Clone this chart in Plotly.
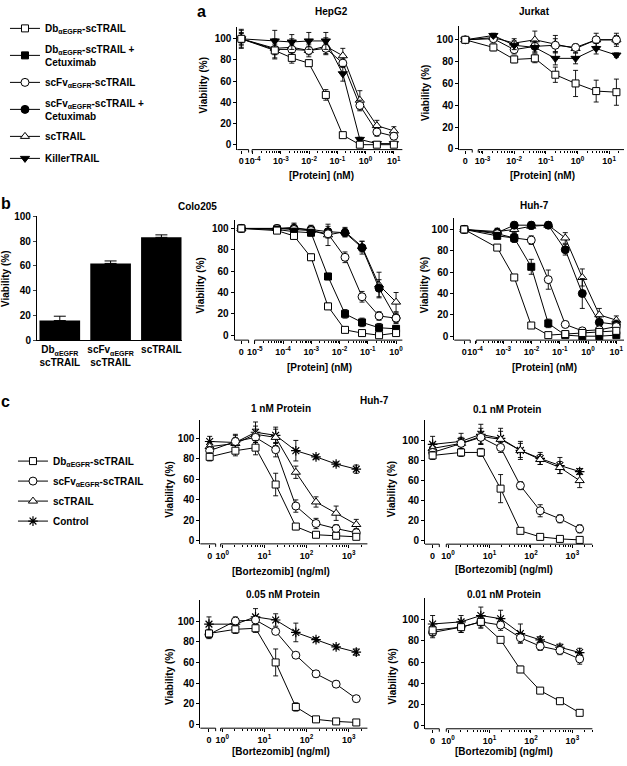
import math
import plotly.graph_objects as go

W, H = 627, 766
FONT = "Liberation Sans"

# ---------------------------------------------------------------- data
# Panel a - HepG2  (protein, nM; 0 = untreated)
HEPG2_CONC = [0, 0.00061, 0.00244, 0.00977, 0.0391, 0.156, 0.625, 2.5, 10]
HEPG2_DB = [100, 89, 82, 77, 47, 9, 0, 0, 0]
HEPG2_DB_ERR = [8, 8, 5, 3, 5, 2, 1, 1, 1]
HEPG2_SCFV = [100, 90, 90, 89, 91, 77, 37, 12, 8]
HEPG2_SCFV_ERR = [6, 5, 5, 4, 5, 4, 5, 4, 3]
HEPG2_SCTRAIL = [100, 91, 92, 89, 93, 84, 42, 18, 13]
HEPG2_SCTRAIL_ERR = [5, 9, 8, 6, 8, 7, 9, 5, 4]
HEPG2_KILLER = [100, 98, 97, 98, 98, 67, 5, 1, 1]
HEPG2_KILLER_ERR = [9, 10, 7, 8, 8, 7, 2, 2, 2]

# Panel a - Jurkat
JURKAT_CONC = [0, 0.0022, 0.010, 0.045, 0.20, 0.87, 3.9, 17]
JURKAT_DB = [100, 93, 82, 83, 68, 60, 53, 52]
JURKAT_DB_ERR = [2, 3, 3, 4, 7, 12, 10, 12]
JURKAT_SCFV = [100, 101, 91, 94, 95, 93, 100, 100]
JURKAT_SCFV_ERR = [2, 3, 4, 5, 6, 3, 3, 4]
JURKAT_SCTRAIL = [100, 102, 97, 100, 96, 92, 100, 100]
JURKAT_SCTRAIL_ERR = [2, 3, 4, 8, 8, 4, 6, 6]
JURKAT_KILLER = [100, 104, 95, 93, 83, 83, 92, 86]
JURKAT_KILLER_ERR = [2, 2, 4, 5, 6, 5, 5, 2]

# Panel b - bar chart (Colo205 viability)
BAR_CATS = ["Db<sub>αEGFR</sub><br>scTRAIL", "scFv<sub>αEGFR</sub><br>scTRAIL", "scTRAIL"]
BAR_VALS = [16, 62, 83]
BAR_ERR = [3.5, 2, 2]

# Panel b - Colo205
COLO_CONC = [0, 0.000061, 0.000244, 0.000977, 0.0039, 0.0156, 0.0625, 0.25, 1]
COLO_DB = [100, 98, 93, 73, 27, 5, 2, 0, 2]
COLO_DB_ERR = [2, 2, 3, 3, 3, 2, 1, 2, 2]
COLO_DBC = [100, 99, 97, 96, 55, 20, 12, 7, 6]
COLO_DBC_ERR = [2, 2, 3, 3, 3, 4, 4, 4, 3]
COLO_SCFV = [100, 100, 99, 98, 95, 73, 36, 18, 16]
COLO_SCFV_ERR = [2, 2, 3, 3, 4, 5, 5, 4, 4]
COLO_SCFVC = [100, 100, 100, 99, 97, 96, 82, 44, 16]
COLO_SCFVC_ERR = [2, 2, 4, 4, 5, 4, 6, 8, 5]
COLO_SCTRAIL = [100, 100, 101, 98, 94, 97, 83, 47, 31]
COLO_SCTRAIL_ERR = [2, 3, 4, 4, 10, 4, 5, 12, 9]

# Panel b - Huh-7
HUH_CONC = [0, 0.00061, 0.00244, 0.00977, 0.0391, 0.156, 0.625, 2.5, 10]
HUH_DB = [100, 83, 55, 10, 1, 2, 3, 4, 5]
HUH_DB_ERR = [1, 2, 2, 2, 1, 1, 1, 1, 1]
HUH_DBC = [100, 94, 92, 65, 12, 1, 0, 0, 1]
HUH_DBC_ERR = [2, 3, 4, 7, 4, 1, 1, 1, 1]
HUH_SCFV = [100, 96, 92, 90, 53, 11, 5, 6, 9]
HUH_SCFV_ERR = [2, 3, 4, 4, 9, 3, 2, 2, 2]
HUH_SCFVC = [100, 97, 104, 104, 104, 81, 40, 13, 11]
HUH_SCFVC_ERR = [2, 4, 3, 3, 3, 5, 14, 5, 4]
HUH_SCTRAIL = [100, 98, 100, 103, 104, 92, 55, 20, 15]
HUH_SCTRAIL_ERR = [2, 3, 3, 3, 3, 5, 8, 6, 4]

# Panel c - Huh-7 + bortezomib (ng/ml; 0 = no bortezomib)
BORT_CONC = [0, 2.06, 6.17, 18.5, 55.6, 167, 500, 1500]
C1_DB = [82, 88, 91, 55, 14, 6, 5, 4]
C1_DB_ERR = [4, 5, 7, 11, 3, 2, 2, 2]
C1_SCFV = [88, 97, 101, 89, 34, 17, 12, 8]
C1_SCFV_ERR = [4, 6, 8, 7, 6, 5, 4, 4]
C1_SCTRAIL = [92, 95, 104, 101, 67, 38, 27, 16]
C1_SCTRAIL_ERR = [4, 6, 8, 8, 6, 5, 7, 5]
C1_CTRL = [97, 96, 106, 103, 88, 82, 75, 70]
C1_CTRL_ERR = [5, 8, 10, 8, 10, 2, 2, 4]

C01_DB = [85, 88, 88, 52, 10, 4, 2, 1]
C01_DB_ERR = [4, 4, 4, 14, 2, 2, 2, 1]
C01_SCFV = [88, 97, 103, 93, 55, 30, 22, 12]
C01_SCFV_ERR = [4, 5, 6, 5, 4, 6, 4, 4]
C01_SCTRAIL = [92, 97, 104, 101, 90, 81, 73, 60]
C01_SCTRAIL_ERR = [5, 6, 8, 8, 7, 5, 6, 7]
C01_CTRL = [96, 99, 106, 102, 90, 82, 75, 69]
C01_CTRL_ERR = [8, 8, 10, 10, 9, 6, 8, 3]

C005_DB = [88, 92, 93, 60, 17, 5, 3, 2]
C005_DB_ERR = [4, 4, 4, 13, 4, 2, 2, 1]
C005_SCFV = [87, 100, 101, 90, 67, 49, 39, 25]
C005_SCFV_ERR = [4, 4, 4, 3, 2, 3, 3, 3]
C005_CTRL = [97, 97, 104, 101, 89, 82, 75, 70]
C005_CTRL_ERR = [7, 5, 8, 6, 9, 2, 2, 3]

C001_DB = [90, 93, 98, 81, 53, 33, 23, 12]
C001_DB_ERR = [5, 5, 5, 2, 3, 2, 2, 2]
C001_SCFV = [88, 93, 98, 95, 83, 75, 71, 63]
C001_SCFV_ERR = [5, 5, 6, 5, 5, 4, 4, 5]
C001_CTRL = [96, 98, 104, 101, 87, 81, 74, 69]
C001_CTRL_ERR = [8, 6, 8, 8, 9, 3, 3, 4]

NAME_DB = "Db<sub>αEGFR</sub>-scTRAIL"
NAME_DBC = "Db<sub>αEGFR</sub>-scTRAIL +<br>Cetuximab"
NAME_SCFV = "scFv<sub>αEGFR</sub>-scTRAIL"
NAME_SCFVC = "scFv<sub>αEGFR</sub>-scTRAIL +<br>Cetuximab"
NAME_SCTRAIL = "scTRAIL"
NAME_KILLER = "KillerTRAIL"
NAME_CTRL = "Control"

# ---------------------------------------------------------------- styles
STYLE = {
    "db": dict(symbol="square", fill="white", size=7),
    "dbc": dict(symbol="square", fill="black", size=7),
    "scfv": dict(symbol="circle", fill="white", size=8),
    "scfvc": dict(symbol="circle", fill="black", size=8),
    "sctrail": dict(symbol="triangle-up", fill="white", size=8),
    "killer": dict(symbol="triangle-down", fill="black", size=8),
    "ctrl": dict(symbol="asterisk", fill="black", size=8),
}


def fx(px):
    return px / W


def fy(py):
    return 1 - py / H


fig = go.Figure()
layout = {}
shapes = []
annotations = []
BOLD = dict(family=FONT, size=10, color="black", weight="bold")
TICKFONT = dict(family=FONT, size=10, color="black", weight="bold")
XTICKFONT = dict(family=FONT, size=9, color="black", weight="bold")


def sup(n):
    return "10<sup>%d</sup>" % n


def ax_name(n, kind):
    return kind + ("" if n == 1 else str(n))


def add_text(text, x, y, size=10, angle=0):
    annotations.append(dict(text=text, x=fx(x), y=fy(y), xref="paper", yref="paper",
                            showarrow=False, textangle=angle, xanchor="center", yanchor="middle",
                            font=dict(family=FONT, size=size, color="black", weight="bold")))


def curve_panel(n, g, conc, series, decades):
    # g: geometry in pixels
    lo = g["ref_log"] + (g["left"] - g["ref_px"]) / g["dec"]
    hi = g["ref_log"] + (g["right"] - g["ref_px"]) / g["dec"]
    zero_val = 10 ** (g["ref_log"] + (g["zero"] - g["ref_px"]) / g["dec"])
    main_log = g["ref_log"] + (g["main"] - g["ref_px"]) / g["dec"]
    ylo = (g["v0"] - g["bottom"]) / g["vs"]
    yhi = (g["v0"] - g["top"]) / g["vs"]
    xa, ya = ax_name(n, "x"), ax_name(n, "y")
    minor_vals = []
    for d in range(math.floor(lo), math.ceil(hi) + 1):
        for k in range(2, 10):
            lv = math.log10(k * 10 ** d)
            if main_log <= lv <= hi:
                minor_vals.append(k * 10 ** d)
    layout[ax_name(n, "xaxis")] = dict(
        domain=[fx(g["left"]), fx(g["right"])], anchor=ya, type="log", range=[lo, hi],
        tickvals=[zero_val] + [10 ** d for d in decades],
        ticktext=["0"] + [sup(d) for d in decades], tickangle=0, ticklabeloverflow="allow",
        ticks="outside", ticklen=3, tickwidth=1, tickcolor="black",
        showline=False, showgrid=False, zeroline=False, tickfont=XTICKFONT,
        minor=dict(tickvals=minor_vals, ticks="outside", ticklen=2, tickwidth=0.8,
                   tickcolor="black", showgrid=False))
    layout[ax_name(n, "yaxis")] = dict(
        domain=[fy(g["bottom"]), fy(g["top"])], anchor=xa, range=[ylo, yhi],
        tickvals=[0, 20, 40, 60, 80, 100], ticks="outside", ticklen=3, tickwidth=1,
        tickcolor="black", showline=True, linewidth=1, linecolor="black",
        showgrid=False, zeroline=False, tickfont=TICKFONT)
    # broken x axis line
    wpx = g["right"] - g["left"]
    hpx = g["bottom"] - g["top"]
    brk = (g["brk"] - g["left"]) / wpx
    mst = (g["main"] - g["left"]) / wpx
    for x0, x1 in [(0, brk), (mst, 1)]:
        shapes.append(dict(type="line", xref=xa + " domain", yref=ya + " domain",
                           x0=x0, x1=x1, y0=0, y1=0, line=dict(color="black", width=1)))
    for xt in [brk, mst]:
        shapes.append(dict(type="line", xref=xa + " domain", yref=ya + " domain",
                           x0=xt, x1=xt, y0=0, y1=-3 / hpx, line=dict(color="black", width=1)))
    xs = [zero_val if c == 0 else c for c in conc]
    for key, name, vals, err, legend in series:
        st = STYLE[key]
        marker = dict(symbol=st["symbol"], size=st["size"], color=st["fill"],
                      line=dict(color="black", width=1.2 if key == "ctrl" else 1))
        fig.add_trace(go.Scatter(
            x=xs, y=vals, mode="lines+markers", name=name, xaxis=xa, yaxis=ya,
            line=dict(color="black", width=1), marker=marker,
            error_y=dict(type="data", array=err, color="black", thickness=0.9, width=2.5),
            showlegend=legend is not None, legend=legend or "legend",
            legendgroup=name + str(n)))


# ---------------------------------------------------------------- panel a
curve_panel(1, dict(left=237.7, right=403, ref_log=1, ref_px=394.5, dec=28.3,
                    zero=241.7, brk=249, main=252.5,
                    top=21.7, bottom=145.7, v0=140.7, vs=1.074),
            HEPG2_CONC,
            [("sctrail", NAME_SCTRAIL, HEPG2_SCTRAIL, HEPG2_SCTRAIL_ERR, None),
             ("scfv", NAME_SCFV, HEPG2_SCFV, HEPG2_SCFV_ERR, None),
             ("killer", NAME_KILLER, HEPG2_KILLER, HEPG2_KILLER_ERR, "legend"),
             ("db", NAME_DB, HEPG2_DB, HEPG2_DB_ERR, None)],
            range(-4, 2))
curve_panel(2, dict(left=460, right=625, ref_log=-2, ref_px=515, dec=31.7,
                    zero=466, brk=473, main=479,
                    top=20.7, bottom=145.7, v0=145, vs=1.107),
            JURKAT_CONC,
            [("sctrail", NAME_SCTRAIL, JURKAT_SCTRAIL, JURKAT_SCTRAIL_ERR, None),
             ("scfv", NAME_SCFV, JURKAT_SCFV, JURKAT_SCFV_ERR, None),
             ("killer", NAME_KILLER, JURKAT_KILLER, JURKAT_KILLER_ERR, None),
             ("db", NAME_DB, JURKAT_DB, JURKAT_DB_ERR, None)],
            range(-3, 2))

# ---------------------------------------------------------------- panel b
fig.add_trace(go.Bar(x=BAR_CATS, y=BAR_VALS, xaxis="x3", yaxis="y3", width=0.8,
                     marker=dict(color="black", line=dict(width=0)), showlegend=False,
                     error_y=dict(type="data", array=BAR_ERR, arrayminus=[0, 0, 0],
                                  symmetric=False, color="black", thickness=1, width=6)))
layout["xaxis3"] = dict(domain=[fx(37), fx(182)], anchor="y3", type="category",
                        range=[-0.45, 2.4], showline=True, linecolor="black", linewidth=1,
                        ticks="", tickangle=0, showgrid=False,
                        tickfont=dict(family=FONT, size=10, color="black", weight="bold"))
layout["yaxis3"] = dict(domain=[fy(339.3), fy(213.3)], anchor="x3", range=[0, 100],
                        tickvals=[0, 20, 40, 60, 80, 100], ticks="outside", ticklen=3,
                        showline=True, linecolor="black", linewidth=1, showgrid=False,
                        zeroline=False, tickfont=TICKFONT)

curve_panel(4, dict(left=235, right=403, ref_log=0, ref_px=396.7, dec=28.3,
                    zero=241.7, brk=249, main=255,
                    top=216.7, bottom=339, v0=334, vs=1.083),
            COLO_CONC,
            [("sctrail", NAME_SCTRAIL, COLO_SCTRAIL, COLO_SCTRAIL_ERR, "legend"),
             ("scfvc", NAME_SCFVC, COLO_SCFVC, COLO_SCFVC_ERR, "legend"),
             ("scfv", NAME_SCFV, COLO_SCFV, COLO_SCFV_ERR, "legend"),
             ("dbc", NAME_DBC, COLO_DBC, COLO_DBC_ERR, "legend"),
             ("db", NAME_DB, COLO_DB, COLO_DB_ERR, "legend")],
            range(-5, 1))
curve_panel(5, dict(left=455, right=625, ref_log=0, ref_px=589, dec=28.3,
                    zero=465, brk=471, main=477,
                    top=215, bottom=339, v0=335, vs=1.083),
            HUH_CONC,
            [("sctrail", NAME_SCTRAIL, HUH_SCTRAIL, HUH_SCTRAIL_ERR, None),
             ("scfvc", NAME_SCFVC, HUH_SCFVC, HUH_SCFVC_ERR, None),
             ("scfv", NAME_SCFV, HUH_SCFV, HUH_SCFV_ERR, None),
             ("dbc", NAME_DBC, HUH_DBC, HUH_DBC_ERR, None),
             ("db", NAME_DB, HUH_DB, HUH_DB_ERR, None)],
            range(-4, 2))

# ---------------------------------------------------------------- panel c
curve_panel(6, dict(left=200.7, right=368, ref_log=0, ref_px=222.5, dec=42.3,
                    zero=210, brk=216, main=221,
                    top=420, bottom=545.7, v0=542.7, vs=1.04),
            BORT_CONC,
            [("ctrl", NAME_CTRL, C1_CTRL, C1_CTRL_ERR, "legend2"),
             ("sctrail", NAME_SCTRAIL, C1_SCTRAIL, C1_SCTRAIL_ERR, "legend2"),
             ("scfv", NAME_SCFV, C1_SCFV, C1_SCFV_ERR, "legend2"),
             ("db", NAME_DB, C1_DB, C1_DB_ERR, "legend2")],
            range(0, 4))
curve_panel(7, dict(left=425.7, right=593.3, ref_log=0, ref_px=448.8, dec=41.5,
                    zero=433.3, brk=440, main=447,
                    top=420, bottom=546, v0=542.7, vs=1.02),
            BORT_CONC,
            [("ctrl", NAME_CTRL, C01_CTRL, C01_CTRL_ERR, None),
             ("sctrail", NAME_SCTRAIL, C01_SCTRAIL, C01_SCTRAIL_ERR, None),
             ("scfv", NAME_SCFV, C01_SCFV, C01_SCFV_ERR, None),
             ("db", NAME_DB, C01_DB, C01_DB_ERR, None)],
            range(0, 4))
curve_panel(8, dict(left=200.7, right=368, ref_log=0, ref_px=222.5, dec=42.3,
                    zero=209.3, brk=216, main=221,
                    top=603, bottom=732.7, v0=729, vs=1.05),
            BORT_CONC,
            [("ctrl", NAME_CTRL, C005_CTRL, C005_CTRL_ERR, None),
             ("scfv", NAME_SCFV, C005_SCFV, C005_SCFV_ERR, None),
             ("db", NAME_DB, C005_DB, C005_DB_ERR, None)],
            range(0, 4))
curve_panel(9, dict(left=425.7, right=593.3, ref_log=0, ref_px=448.8, dec=41.5,
                    zero=433.3, brk=440, main=447,
                    top=601, bottom=733.3, v0=730, vs=1.073),
            BORT_CONC,
            [("ctrl", NAME_CTRL, C001_CTRL, C001_CTRL_ERR, None),
             ("scfv", NAME_SCFV, C001_SCFV, C001_SCFV_ERR, None),
             ("db", NAME_DB, C001_DB, C001_DB_ERR, None)],
            range(0, 4))

# ---------------------------------------------------------------- texts
add_text("a", 202, 6, 16)
add_text("b", 6, 200, 16)
add_text("c", 6, 401, 16)
add_text("HepG2", 331.7, 6)
add_text("Jurkat", 535, 6)
add_text("Colo205", 198, 203)
add_text("Huh-7", 535, 202)
add_text("Huh-7", 375, 400)
add_text("1 nM Protein", 281.7, 408.5)
add_text("0.1 nM Protein", 508.3, 409)
add_text("0.05 nM Protein", 283.3, 597)
add_text("0.01 nM Protein", 505, 597)
for x, y in [(321.7, 171.5), (543, 171.5), (320, 366.7), (545, 366.7)]:
    add_text("[Protein] (nM)", x, y)
for x, y in [(281.7, 573.3), (505, 572), (281.7, 756.7), (505, 756.7)]:
    add_text("[Bortezomib] (ng/ml)", x, y)
for x, y in [(204, 80), (426, 88), (5, 276), (201, 283), (426, 283),
             (170, 490), (393, 490), (170, 680), (393, 680)]:
    add_text("Viability (%)", x, y, 10, -90)

layout.update(
    width=W, height=H, margin=dict(l=0, r=0, t=0, b=0),
    paper_bgcolor="white", plot_bgcolor="white",
    font=dict(family=FONT, size=10, color="black", weight="bold"),
    shapes=shapes, annotations=annotations, bargap=0.2,
    legend=dict(x=fx(5), y=fy(8), xanchor="left", yanchor="top", bgcolor="rgba(0,0,0,0)",
                font=BOLD, traceorder="grouped", tracegroupgap=3, itemwidth=30),
    legend2=dict(x=fx(13), y=fy(447), xanchor="left", yanchor="top", bgcolor="rgba(0,0,0,0)",
                 font=BOLD, traceorder="grouped", tracegroupgap=1, itemwidth=30),
)
fig.update_layout(**layout)

# legend order
order1 = [NAME_DB, NAME_DBC, NAME_SCFV, NAME_SCFVC, NAME_SCTRAIL, NAME_KILLER]
order2 = [NAME_DB, NAME_SCFV, NAME_SCTRAIL, NAME_CTRL]
for tr in fig.data:
    if tr.showlegend:
        if tr.legend == "legend2":
            tr.legendrank = 1000 + order2.index(tr.name)
        else:
            tr.legendrank = 1000 + order1.index(tr.name)

fig.write_html("out.html", config={"displayModeBar": False},
               post_script="document.body.style.margin='0';document.body.style.overflow='hidden';")
